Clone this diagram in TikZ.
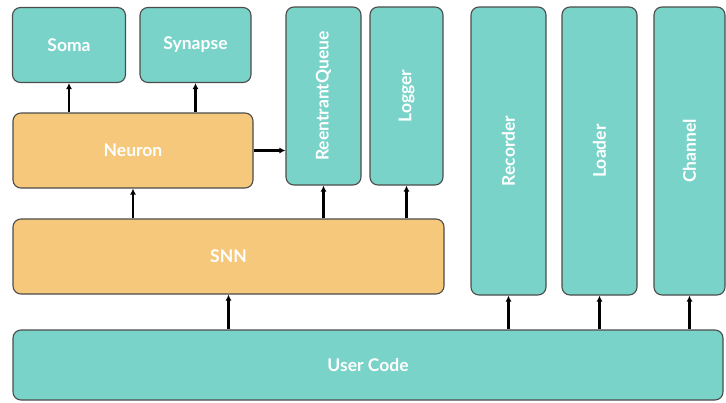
\documentclass[tikz,border=0pt]{standalone}
\usepackage{fontspec}
\setmainfont{Lato}
\usepackage{xcolor}
\usetikzlibrary{arrows.meta, positioning, calc}
\definecolor{tealbox}{HTML}{79D3C9}
\definecolor{orangebox}{HTML}{F5C87B}

\begin{document}
\begin{tikzpicture}[
  x=1pt, y=-1pt,
  font=\bfseries\fontsize{17.5}{20}\selectfont,
  module/.style={draw=black!70, line width=1.1pt, rounded corners=8pt, fill=tealbox, text=white, inner sep=0pt},
  core/.style={module, fill=orangebox},
  dep/.style={line width=2.4pt, -{Latex[length=6pt, width=6pt]}},
]
\useasboundingbox (0,0) rectangle (726,402);
% neuron side
\node[module, minimum width=113pt, minimum height=75pt] (soma) at (69,45) {Soma};
\node[module, minimum width=111pt, minimum height=75pt] (synapse) at (195.5,45) {Synapse};
\node[core, minimum width=240pt, minimum height=75pt] (neuron) at (133,150.5) {Neuron};
\node[core, minimum width=431pt, minimum height=75pt] (snn) at (228.5,256.5) {SNN};
% utilities
\node[module, minimum width=75pt, minimum height=178pt] (queue) at (323.5,96) {\rotatebox{90}{ReentrantQueue}};
\node[module, minimum width=73pt, minimum height=178pt] (logger) at (406.5,96) {\rotatebox{90}{Logger}};
\node[module, minimum width=75pt, minimum height=288pt] (recorder) at (508.5,151) {\rotatebox{90}{Recorder}};
\node[module, minimum width=75pt, minimum height=288pt] (loader) at (599.5,151) {\rotatebox{90}{Loader}};
\node[module, minimum width=71pt, minimum height=288pt] (channel) at (689.5,151) {\rotatebox{90}{Channel}};
\node[module, minimum width=710pt, minimum height=70pt] (user) at (368,365) {User Code};

\draw[dep] (neuron.north -| soma.south) -- (soma.south);
\draw[dep] (neuron.north -| synapse.south) -- (synapse.south);
\draw[dep] (neuron.east) -- (neuron.east -| queue.west);
\draw[dep] (snn.north -| neuron.south) -- (neuron.south);
\draw[dep] (snn.north -| queue.south) -- (queue.south);
\draw[dep] (snn.north -| logger.south) -- (logger.south);
\draw[dep] (user.north -| snn.south) -- (snn.south);
\foreach \m in {recorder, loader, channel}
  \draw[dep] (user.north -| \m.south) -- (\m.south);
\end{tikzpicture}
\end{document}
